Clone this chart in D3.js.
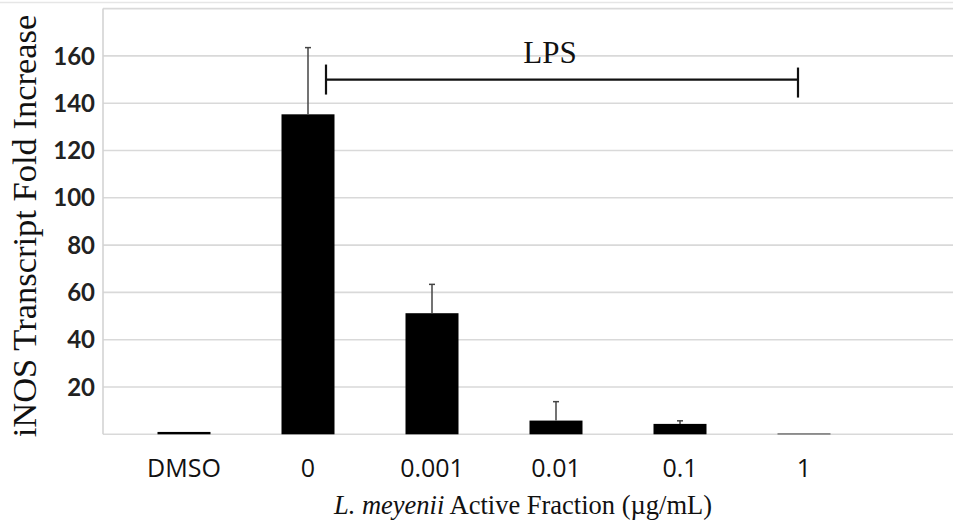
<!DOCTYPE html>
<head>
<meta charset="utf-8">
<script src="https://cdn.jsdelivr.net/npm/d3@7"></script>
<style>
body { margin: 0; background: #fff; }
svg { display: block; }
</style>
</head>
<body>
<svg id="chart" width="953" height="525"></svg>
<script>
// values
var categories = ["DMSO", "0", "0.001", "0.01", "0.1", "1"];
var means      = [1.0, 135.3, 51.2, 5.8, 4.4, 0.3];
var errors     = [0, 28.2, 12.2, 8.0, 1.3, 0];
var yTicks     = [20, 40, 60, 80, 100, 120, 140, 160];
var gridValues = [0, 20, 40, 60, 80, 100, 120, 140, 160, 180];

var data = categories.map((c, i) => ({cat: c, mean: means[i], err: errors[i]}));

var svg = d3.select("#chart"),
    width = +svg.attr("width"),
    height = +svg.attr("height");

var x = d3.scalePoint().domain(categories).range([184, 804]);
var y = d3.scaleLinear().domain([0, 180]).range([434.3, 8.6]);
var barW = 53;

// frame line at very top
svg.append("line").attr("x1", 0).attr("x2", width).attr("y1", 2.5).attr("y2", 2.5)
    .attr("stroke", "#e6e6e6").attr("stroke-width", 1.5);

// gridlines
svg.append("g").selectAll("line").data(gridValues).enter().append("line")
    .attr("x1", 103).attr("x2", width)
    .attr("y1", d => y(d)).attr("y2", d => y(d))
    .attr("stroke", "#d9d9d9").attr("stroke-width", 1.6);

// left axis line
svg.append("line").attr("x1", 103).attr("x2", 103).attr("y1", y(180)).attr("y2", y(0))
    .attr("stroke", "#d4d4d4").attr("stroke-width", 1.6);

// y tick labels
svg.append("g").selectAll("text").data(yTicks).enter().append("text")
    .attr("x", 95).attr("y", d => y(d)).attr("dy", "0.36em")
    .attr("text-anchor", "end")
    .style("font", "bold 24px Lato, 'Open Sans', sans-serif").style("fill", "#222")
    .text(d => d);

// bars
svg.append("g").selectAll("rect").data(data).enter().append("rect")
    .attr("x", d => x(d.cat) - barW / 2)
    .attr("width", barW)
    .attr("y", d => y(d.mean))
    .attr("height", d => y(0) - y(d.mean))
    .attr("fill", "#000");

// error bars (upper only)
var eb = svg.append("g").selectAll("g").data(data.filter(d => d.err > 0)).enter().append("g")
    .attr("stroke", "#444").attr("stroke-width", 1.5);
eb.append("line")
    .attr("x1", d => x(d.cat)).attr("x2", d => x(d.cat))
    .attr("y1", d => y(d.mean)).attr("y2", d => y(d.mean + d.err));
eb.append("line")
    .attr("x1", d => x(d.cat) - 3).attr("x2", d => x(d.cat) + 3)
    .attr("y1", d => y(d.mean + d.err)).attr("y2", d => y(d.mean + d.err));

// x tick labels
svg.append("g").selectAll("text").data(categories).enter().append("text")
    .attr("x", d => x(d)).attr("y", 477)
    .attr("text-anchor", "middle")
    .style("font", "25px 'Open Sans', Lato, sans-serif").style("fill", "#111")
    .text(d => d);

// LPS bracket
var bx0 = x("0") + 18, bx1 = x("1") - 6, by = y(150);
var br = svg.append("g").attr("stroke", "#111").attr("stroke-width", 2.2);
br.append("line").attr("x1", bx0).attr("x2", bx1).attr("y1", by).attr("y2", by);
br.append("line").attr("x1", bx0).attr("x2", bx0).attr("y1", by - 15).attr("y2", by + 15);
br.append("line").attr("x1", bx1).attr("x2", bx1).attr("y1", by - 12).attr("y2", by + 18);
svg.append("text").attr("x", (bx0 + bx1) / 2 - 12).attr("y", 63)
    .attr("text-anchor", "middle")
    .style("font", "31px 'Liberation Serif', 'Times New Roman', serif").style("fill", "#111")
    .text("LPS");

// axis titles
var xt = svg.append("text").attr("x", 523).attr("y", 514).attr("text-anchor", "middle")
    .style("font", "26.5px 'Liberation Serif', 'Times New Roman', serif").style("fill", "#111");
xt.append("tspan").style("font-style", "italic").text("L. meyenii");
xt.append("tspan").text(" Active Fraction (\u00b5g/mL)");

svg.append("text")
    .attr("transform", "translate(36,226) rotate(-90)")
    .attr("text-anchor", "middle")
    .style("font", "34.5px 'Liberation Serif', 'Times New Roman', serif").style("fill", "#111")
    .text("iNOS Transcript Fold Increase");
</script>
</body>
</html>
